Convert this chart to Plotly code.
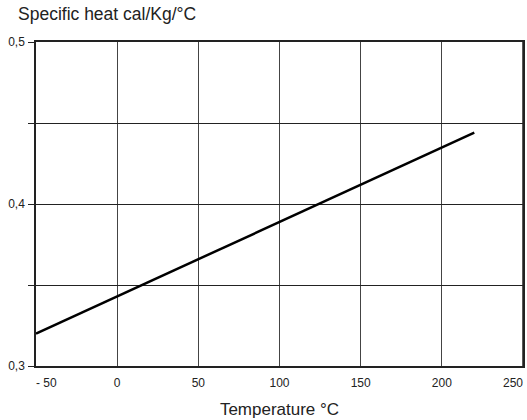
import plotly.graph_objects as go

temperature = [-50, 220]
specific_heat = [0.32, 0.444]

x_tick_vals = [0, 50, 100, 150, 200]
x_tick_text = ["0", "50", "100", "150", "200"]
x_left_tick_vals = [-50]
x_left_tick_text = ["- 50"]
x_right_tick_vals = [250]
x_right_tick_text = ["250"]
y_tick_vals = [0.3, 0.35, 0.4, 0.45, 0.5]
y_tick_text = ["0,3", "", "0,4", "", "0,5"]

fig = go.Figure()
fig.add_trace(go.Scatter(x=temperature, y=specific_heat, mode="lines",
                         line=dict(color="black", width=2.5), showlegend=False,
                         cliponaxis=False))

font_family = "Liberation Sans, Arial, sans-serif"
x_range = [-50, 250]
edge_axis = dict(range=x_range, overlaying="x", side="bottom", showgrid=False,
                 showline=False, zeroline=False, ticks="", automargin=False,
                 ticklabelstandoff=8, ticklabeloverflow="allow",
                 tickfont=dict(size=12, color="#222"))
fig.update_layout(
    width=527, height=420,
    margin=dict(l=36, r=4, t=42, b=54, autoexpand=False),
    paper_bgcolor="white", plot_bgcolor="white",
    font=dict(family=font_family, color="#222", size=12),
    xaxis=dict(range=x_range, tickvals=x_tick_vals, ticktext=x_tick_text,
               showgrid=True, gridcolor="#444", gridwidth=1,
               showline=True, linecolor="#222", linewidth=1.5, mirror=True,
               ticks="", ticklabelstandoff=5, zeroline=False, automargin=False,
               ticklabeloverflow="allow",
               tickfont=dict(size=12, color="#222"),
               title=dict(text="Temperature °C", font=dict(size=17, color="#222"),
                          standoff=14)),
    xaxis2=dict(edge_axis, tickvals=x_left_tick_vals, ticktext=x_left_tick_text,
                ticklabelposition="outside right"),
    xaxis3=dict(edge_axis, tickvals=x_right_tick_vals, ticktext=x_right_tick_text,
                ticklabelposition="outside left"),
    yaxis=dict(range=[0.3, 0.5], tickvals=y_tick_vals, ticktext=y_tick_text,
               showgrid=True, gridcolor="#222", gridwidth=1,
               showline=True, linecolor="#222", linewidth=1.5, mirror=True,
               ticks="outside", ticklen=6, tickcolor="#222", tickwidth=1,
               ticklabelstandoff=1, automargin=False,
               zeroline=False, tickfont=dict(size=12, color="#222")),
    annotations=[dict(text="Specific heat cal/Kg/°C", xref="paper", yref="paper",
                      x=-0.041, y=1.0, xanchor="left", yanchor="bottom", yshift=16,
                      showarrow=False, font=dict(size=17.5, color="#222"))],
    shapes=[dict(type="line", xref="x", yref="paper", x0=250, x1=250, y0=0, y1=1,
                 line=dict(color="#222", width=1.5), layer="above")],
)
# invisible helper traces so the edge-label axes are drawn
fig.add_trace(go.Scatter(x=x_left_tick_vals, y=[None], xaxis="x2", showlegend=False,
                         hoverinfo="skip"))
fig.add_trace(go.Scatter(x=x_right_tick_vals, y=[None], xaxis="x3", showlegend=False,
                         hoverinfo="skip"))

# Remove the default 8px page margin so the 527x420 figure fills the window exactly.
fig.write_html("out.html", config={"displayModeBar": False},
               post_script="document.body.style.margin='0';document.body.style.overflow='hidden';")
